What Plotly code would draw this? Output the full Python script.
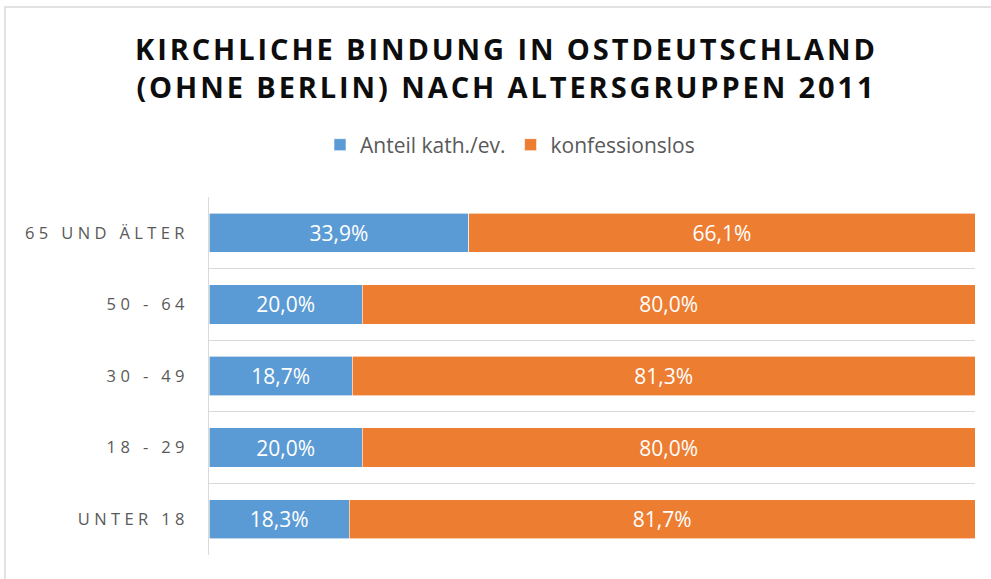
import plotly.graph_objects as go

categories = ["65 UND ÄLTER", "50 - 64", "30 - 49", "18 - 29", "UNTER 18"]
anteil_kath_ev = [33.9, 20.0, 18.7, 20.0, 18.3]
konfessionslos = [66.1, 80.0, 81.3, 80.0, 81.7]
series_names = ["Anteil kath./ev.", "konfessionslos"]
title_lines = ["KIRCHLICHE BINDUNG IN OSTDEUTSCHLAND", "(OHNE BERLIN) NACH ALTERSGRUPPEN 2011"]

HAIR = "\u200a"
THIN = "\u2009"


def spaced(s, sep):
    return sep.join(list(s))


W, H = 991, 579
L, R, T, B = 209, 16, 197, 24
FONT = "Open Sans"

fig = go.Figure()
for vals, name, color in [(anteil_kath_ev, series_names[0], "#5B9BD5"),
                          (konfessionslos, series_names[1], "#ED7D31")]:
    fig.add_trace(go.Bar(
        y=categories, x=vals, name=name, orientation="h",
        marker=dict(color=color, line=dict(color="#ffffff", width=0.6)),
        texttemplate="%{x:.1f}%", textposition="inside", insidetextanchor="middle",
        textfont=dict(color="#ffffff", size=21, family=FONT),
    ))

title_text = "<br>".join(spaced(t, HAIR) for t in title_lines)

pw = W - L - R
ph = H - T - B
fig.update_layout(
    width=W, height=H, barmode="stack", bargap=0.45,
    separators=",.",
    paper_bgcolor="#ffffff", plot_bgcolor="#ffffff",
    margin=dict(l=L, r=R, t=T, b=B, autoexpand=False),
    title=dict(text=title_text, x=505 / W, xanchor="center", xref="container",
               y=1 - 60 / H, yanchor="middle", yref="container",
               font=dict(family=FONT, size=29, color="#0d0d0d", weight="bold")),
    legend=dict(orientation="h", xref="container", yref="container",
                x=510 / W, xanchor="center", y=1 - 145 / H, yanchor="middle",
                font=dict(family=FONT, size=21, color="#595959"),
                itemwidth=30, traceorder="normal"),
    xaxis=dict(range=[0, 100], showticklabels=False, showgrid=False, zeroline=False,
               showline=False, fixedrange=True),
    yaxis=dict(type="category", categoryorder="array", categoryarray=categories,
               autorange="reversed", tickson="boundaries", showgrid=True,
               gridcolor="#d9d9d9", gridwidth=1.3, showline=True, linecolor="#d9d9d9",
               linewidth=1.3, ticks="", ticklabelstandoff=20,
               tickvals=categories, ticktext=[spaced(c, THIN + HAIR) for c in categories],
               tickfont=dict(family=FONT, size=16.5, color="#595959")),
    shapes=[dict(type="rect", xref="paper", yref="paper",
                 x0=(5 - L) / pw, x1=(W + 200 - L) / pw,
                 y0=-(B + 200) / ph, y1=1 + (T - 7) / ph,
                 line=dict(color="#d9d9d9", width=1.5), fillcolor="rgba(0,0,0,0)",
                 layer="below")],
)
fig.write_html("out.html")
